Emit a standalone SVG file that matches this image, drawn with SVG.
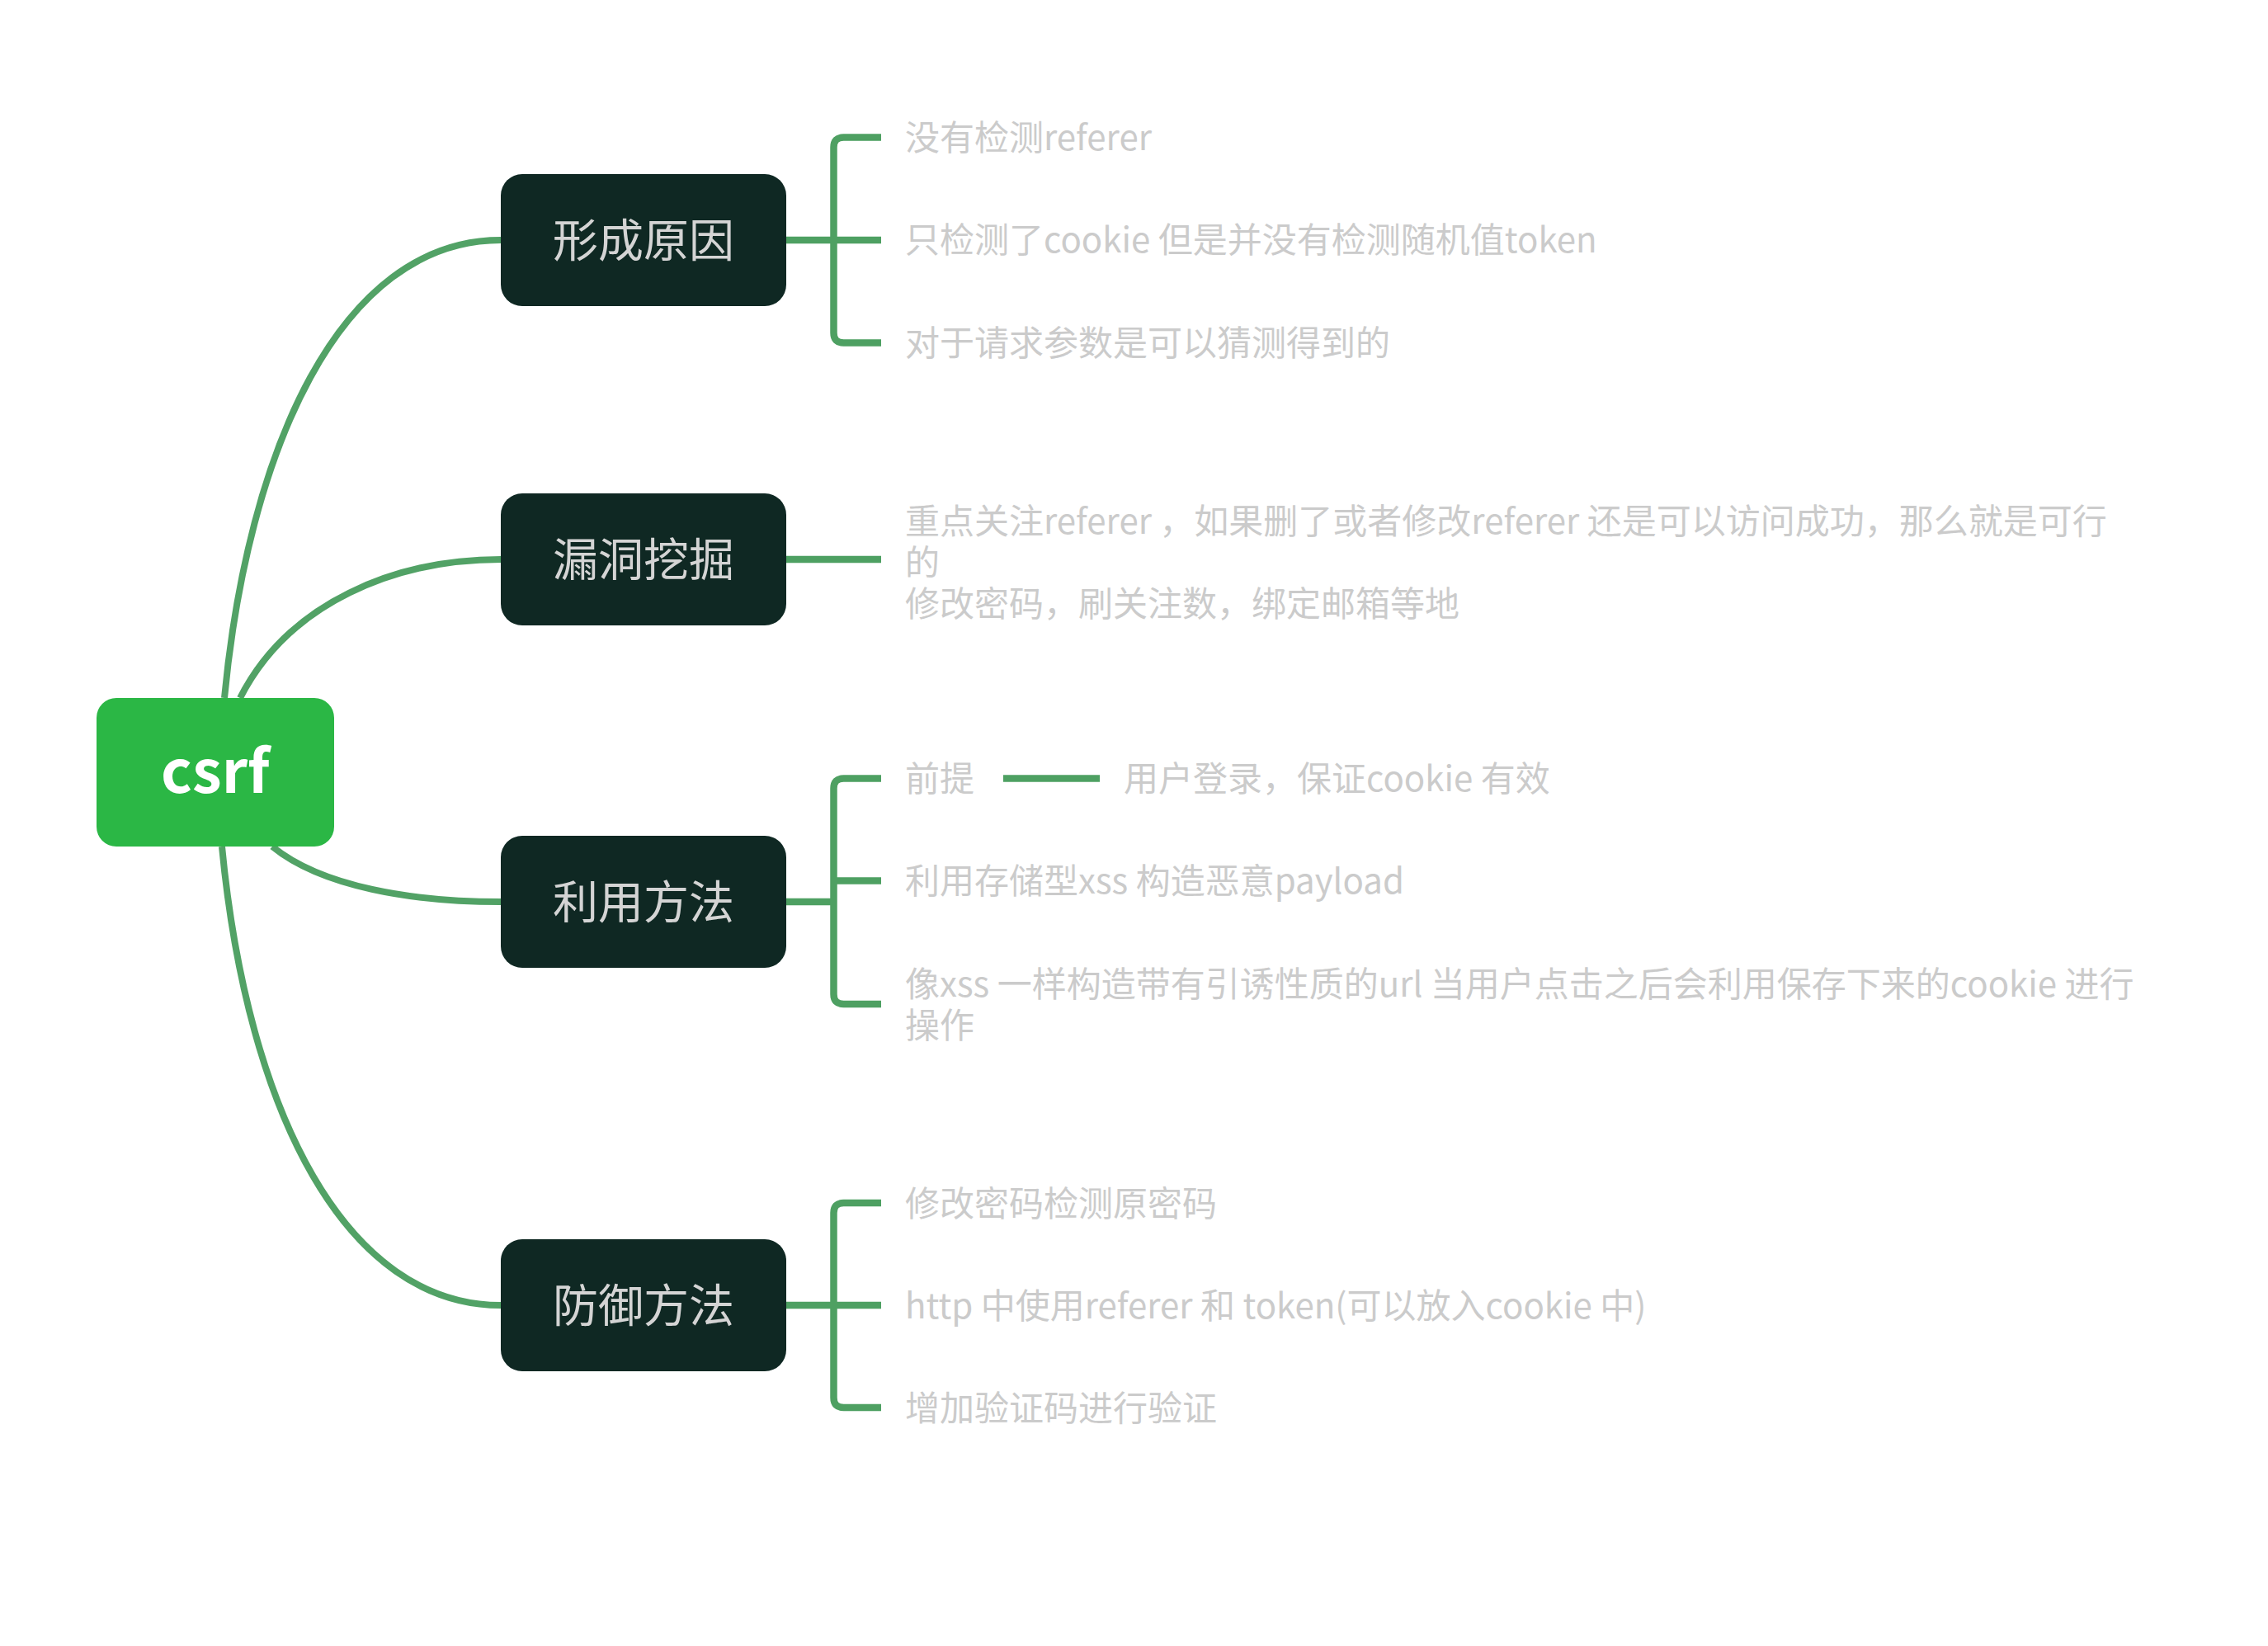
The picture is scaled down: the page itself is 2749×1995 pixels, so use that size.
<svg xmlns="http://www.w3.org/2000/svg" width="2749" height="1995" viewBox="0 0 2749 1995">
<style>
.bg{fill:#ffffff}
.curve{fill:none;stroke:#52a266;stroke-width:8;stroke-linecap:butt}
.br{fill:none;stroke:#4ea062;stroke-width:8.5;stroke-linecap:butt}
.root{fill:#2bb745}
.root-t{font-family:"Noto Sans CJK SC","Noto Sans",sans-serif;font-weight:bold;font-size:72px;fill:#ffffff;text-anchor:middle}
.n1{fill:#0f2823}
.n1-t{font-family:"Noto Sans CJK SC","Noto Sans",sans-serif;font-size:55px;fill:#d4d4d4;text-anchor:middle}
.leaf{font-family:"Noto Sans CJK SC","Noto Sans",sans-serif;font-size:42px;fill:#cbcbcb}
</style>
<rect class="bg" x="0" y="0" width="2749" height="1995"/>
<g id="connectors">
<path class="curve" d="M272,846 C300,550 410,291 607,291"/>
<path class="curve" d="M291,846 C350,730 480,678 607,678"/>
<path class="curve" d="M330,1026 C390,1075 500,1093 607,1093"/>
<path class="curve" d="M269,1026 C300,1350 420,1582 607,1582"/>
<path class="br" d="M1068,166.5 H1022.5 Q1010.5,166.5 1010.5,178.5 V403.5 Q1010.5,415.5 1022.5,415.5 H1068 M953,291 H1068"/>
<path class="br" d="M953,678 H1068"/>
<path class="br" d="M1068,943.5 H1022.5 Q1010.5,943.5 1010.5,955.5 V1205 Q1010.5,1217 1022.5,1217 H1068 M1010.5,1067.5 H1068 M953,1093 H1010.5"/>
<path class="br" d="M1216,943.5 H1333"/>
<path class="br" d="M1068,1458 H1022.5 Q1010.5,1458 1010.5,1470 V1694 Q1010.5,1706 1022.5,1706 H1068 M953,1582 H1068"/>
</g>
<g id="root">
<rect class="root" x="117" y="846" width="288" height="180" rx="24"/>
<text class="root-t" x="261" y="961">csrf</text>
</g>
<g id="node-xingchengyuanyin">
<rect class="n1" x="607" y="211" width="346" height="160" rx="26"/>
<text class="n1-t" x="780" y="311">形成原因</text>
</g>
<g id="node-loudongwajue">
<rect class="n1" x="607" y="598" width="346" height="160" rx="26"/>
<text class="n1-t" x="780" y="698">漏洞挖掘</text>
</g>
<g id="node-liyongfangfa">
<rect class="n1" x="607" y="1013" width="346" height="160" rx="26"/>
<text class="n1-t" x="780" y="1113">利用方法</text>
</g>
<g id="node-fangyufangfa">
<rect class="n1" x="607" y="1502" width="346" height="160" rx="26"/>
<text class="n1-t" x="780" y="1602">防御方法</text>
</g>
<g id="leaf-1-1"><text class="leaf" x="1097" y="182">没有检测referer</text></g>
<g id="leaf-1-2"><text class="leaf" x="1097" y="306">只检测了cookie 但是并没有检测随机值token</text></g>
<g id="leaf-1-3"><text class="leaf" x="1097" y="431">对于请求参数是可以猜测得到的</text></g>
<g id="leaf-2-1"><text class="leaf" x="1097" y="647"><tspan x="1097" y="647">重点关注referer ，如果删了或者修改referer 还是可以访问成功，那么就是可行</tspan><tspan x="1097" y="697">的</tspan><tspan x="1097" y="747">修改密码，刷关注数，绑定邮箱等地</tspan></text></g>
<g id="leaf-3-1"><text class="leaf" x="1097" y="959">前提</text></g>
<g id="leaf-3-1-1"><text class="leaf" x="1362" y="959">用户登录，保证cookie 有效</text></g>
<g id="leaf-3-2"><text class="leaf" x="1097" y="1083">利用存储型xss 构造恶意payload</text></g>
<g id="leaf-3-3"><text class="leaf" x="1097" y="1208"><tspan x="1097" y="1208">像xss 一样构造带有引诱性质的url 当用户点击之后会利用保存下来的cookie 进行</tspan><tspan x="1097" y="1258">操作</tspan></text></g>
<g id="leaf-4-1"><text class="leaf" x="1097" y="1474">修改密码检测原密码</text></g>
<g id="leaf-4-2"><text class="leaf" x="1097" y="1598">http 中使用referer 和 token(可以放入cookie 中)</text></g>
<g id="leaf-4-3"><text class="leaf" x="1097" y="1722">增加验证码进行验证</text></g>
</svg>
